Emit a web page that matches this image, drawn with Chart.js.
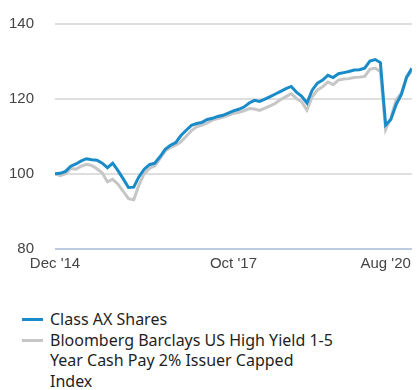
<!DOCTYPE html>
<html>
<head>
<meta charset="utf-8">
<script src="https://cdn.jsdelivr.net/npm/chart.js@4"></script>
<style>
    body { margin: 0; background: #fff; }
    #wrap { position: relative; width: 417px; height: 390px; overflow: hidden; }
    #chartBox { position: absolute; left: 0; top: 0; width: 417px; height: 300px; }
    .legend { position: absolute; left: 0; top: 309px; font-family: "Noto Sans", sans-serif; font-size: 16px; line-height: 20.5px; color: #1f1f1f; }
    .legend .item { position: relative; padding-left: 50px; white-space: nowrap; }
    .legend .swatch { position: absolute; left: 22px; top: 9px; width: 21px; height: 3px; }
</style>
</head>
<body>
<div id="wrap">
    <div id="chartBox"><canvas id="growthChart"></canvas></div>
    <div class="legend">
        <div class="item"><span class="swatch" style="background:#1a8bc9"></span>Class AX Shares</div>
        <div class="item"><span class="swatch" style="background:#c6c6c6"></span>Bloomberg Barclays US High Yield 1-5<br>Year Cash Pay 2% Issuer Capped<br>Index</div>
    </div>
</div>
<script>
// Monthly values, Dec 2014 (month 0) to Aug 2020 (month 68)
const classAX = [
    100.0, 100.1, 100.6, 102.0, 102.6, 103.4, 104.0, 103.7, 103.6, 102.8,
    101.6, 102.8, 100.8, 98.6, 96.3, 96.4, 99.2, 101.2, 102.4, 102.8,
    104.5, 106.5, 107.6, 108.3, 110.2, 111.6, 112.9, 113.4, 113.7, 114.5,
    114.8, 115.3, 115.6, 116.2, 116.8, 117.2, 117.8, 118.9, 119.6, 119.3,
    119.9, 120.6, 121.3, 122.0, 122.7, 123.3, 121.8, 120.7, 118.9, 122.3,
    124.2, 125.0, 126.3, 125.7, 126.7, 127.0, 127.3, 127.7, 127.8, 128.2,
    130.1, 130.5, 129.7, 113.0, 114.5, 118.5, 121.2, 125.8, 128.2
];
const hyIndex = [
    100.0, 99.5, 100.0, 101.4, 101.2, 102.0, 102.5, 102.2, 101.3, 100.2,
    97.8, 98.5, 97.2, 95.3, 93.3, 93.0, 97.0, 100.0, 101.4, 102.1,
    104.0, 106.1, 107.0, 107.6, 108.5, 110.0, 111.5, 112.5, 113.0, 113.6,
    114.3, 114.7, 115.1, 115.6, 116.1, 116.4, 116.8, 117.4, 117.3, 116.9,
    117.5, 118.1, 118.8, 119.8, 120.6, 121.4, 120.1, 119.2, 117.0, 120.5,
    122.4, 123.2, 124.5, 123.8, 125.0, 125.3, 125.4, 125.7, 125.8, 126.0,
    127.9, 128.2, 127.3, 111.8, 115.0, 119.8, 121.6, 125.8, 127.4
];
const xTickValues = [0, 34, 63];
const xTickLabels = ["Dec '14", "Oct '17", "Aug '20"];
const yTicks = [80, 100, 120, 140];

const toPoints = arr => arr.map((v, i) => ({ x: i, y: v }));
const tickFont = { family: '"Liberation Sans", sans-serif', size: 15 };

new Chart(document.getElementById('growthChart'), {
    type: 'line',
    data: {
        datasets: [
            {
                label: 'Class AX Shares',
                data: toPoints(classAX),
                borderColor: '#1a8bc9',
                borderWidth: 3,
                pointRadius: 0,
                tension: 0
            },
            {
                label: 'Bloomberg Barclays US High Yield 1-5 Year Cash Pay 2% Issuer Capped Index',
                data: toPoints(hyIndex),
                borderColor: '#c6c6c6',
                borderWidth: 3,
                pointRadius: 0,
                tension: 0
            }
        ]
    },
    options: {
        responsive: true,
        maintainAspectRatio: false,
        animation: false,
        layout: { padding: { top: 24, right: 2, bottom: 21.5, left: 0 } },
        plugins: {
            legend: { display: false },
            tooltip: { enabled: false }
        },
        scales: {
            x: {
                type: 'linear',
                min: 0,
                max: classAX.length - 1,
                afterBuildTicks: axis => { axis.ticks = xTickValues.map(v => ({ value: v })); },
                ticks: {
                    autoSkip: false,
                    maxRotation: 0,
                    padding: 6,
                    color: '#444',
                    font: tickFont,
                    callback: (v, i) => xTickLabels[i]
                },
                grid: { display: false, drawTicks: false },
                border: { display: false }
            },
            y: {
                min: 80,
                max: 140,
                afterBuildTicks: axis => { axis.ticks = yTicks.map(v => ({ value: v })); },
                afterFit: axis => {
                    // fixed gutter for the labels, no extra space above/below
                    axis.width = 55;
                    axis.paddingTop = 0;
                    axis.paddingBottom = 0;
                },
                ticks: {
                    padding: 21,
                    color: '#444',
                    font: tickFont
                },
                grid: {
                    drawTicks: false,
                    lineWidth: 2,
                    color: ctx => ctx.tick && ctx.tick.value === 80 ? '#bccbe0' : '#dedede'
                },
                border: { display: false }
            }
        }
    }
});
</script>
</body>
</html>
